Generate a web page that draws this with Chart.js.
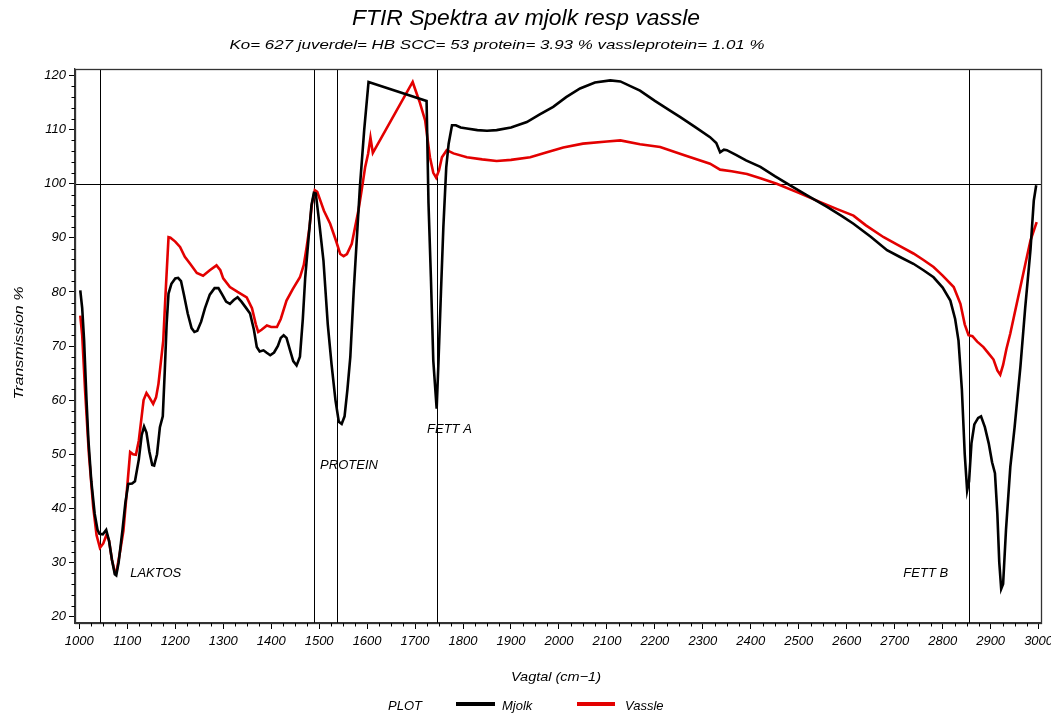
<!DOCTYPE html>
<html>
<head>
<meta charset="utf-8">
<script src="https://cdn.jsdelivr.net/npm/chart.js@4.4.1/dist/chart.umd.min.js"></script>
<style>
  html, body { margin: 0; padding: 0; background: #fff; }
  #wrap { width: 1051px; height: 716px; position: relative; }
</style>
</head>
<body>
<div id="wrap"><canvas id="c" width="1051" height="716"></canvas></div>
<script>
// ---- Data ----
const mjolkX = [1002,1006,1010,1015,1019,1025,1032,1038,1042,1049,1056,1062,1068,1074,1077,1082,1090,1096,1102,1110,1116,1124,1130,1135,1140,1146,1152,1156,1162,1168,1174,1178,1182,1186,1192,1200,1206,1212,1218,1226,1234,1240,1246,1254,1262,1272,1282,1290,1298,1306,1314,1322,1330,1338,1348,1356,1364,1370,1376,1384,1390,1398,1406,1414,1420,1426,1432,1440,1446,1453,1460,1466,1471,1478,1484,1489,1493,1500,1509,1518,1526,1534,1541,1547,1553,1559,1565,1572,1578,1585,1594,1603,1724,1728,1733,1738,1745,1749,1754,1759,1765,1770,1777,1785,1795,1808,1830,1850,1870,1900,1933,1960,1988,2015,2044,2075,2107,2128,2150,2169,2200,2230,2253,2285,2315,2328,2336,2344,2350,2370,2390,2420,2450,2482,2520,2559,2590,2614,2650,2684,2710,2739,2760,2781,2800,2816,2826,2833,2840,2846,2851,2855,2860,2866,2874,2880,2888,2896,2903,2909,2914,2918,2922,2926,2932,2941,2950,2962,2972,2983,2990,2995];
const mjolkY = [80.3,77,71,60,52.5,45,39,36,35.3,35.2,36,34,30.5,27.8,27.6,30,36,41,44.5,44.6,45,49,53.5,55.1,54,50.5,48,47.9,50,55,57,65,74,79.7,81.5,82.5,82.6,82,79.5,76,73.3,72.6,72.8,74.5,77,79.5,80.7,80.7,79.5,78.2,77.8,78.5,79,78.2,77,76,73,69.8,69,69.2,68.8,68.3,68.8,70,71.5,72,71.5,69,67.2,66.4,68,75,82.7,90,96,98.3,98.2,93,85.8,74,66.5,60,56,55.6,57,62,68,80,89,99.4,110,118.8,115.3,96.4,82.7,67.3,58.4,67.5,80,92,103,107.4,110.8,110.8,110.4,110.2,109.9,109.8,109.9,110.4,111.4,112.8,114.2,116,117.6,118.7,119.1,118.9,118,117.2,115.3,113.6,112.3,110.4,108.6,107.5,105.8,106.3,106.2,105.3,104.3,103.1,101.4,99.7,97.7,95.7,94,92.6,90.2,87.7,86.5,85.2,84,82.7,80.8,78.4,75,71,62,50,43.3,45,52,55.5,56.7,57,55,52,48.5,46.5,39,30,25.1,26,36,47.6,55,66.1,77,87.7,96.9,99.7];

const vassleX = [1002,1006,1012,1020,1029,1036,1043,1050,1057,1062,1068,1074,1078,1085,1092,1098,1106,1112,1118,1124,1130,1134,1140,1146,1154,1160,1165,1170,1175,1180,1186,1190,1200,1210,1220,1231,1245,1258,1272,1286,1294,1300,1314,1330,1349,1360,1368,1373,1380,1391,1400,1412,1420,1432,1445,1460,1468,1474,1480,1485,1491,1496,1502,1510,1523,1535,1544,1551,1558,1568,1575,1582,1589,1596,1602,1607,1612,1695,1700,1710,1721,1731,1738,1744,1750,1756,1766,1780,1808,1840,1870,1900,1940,1975,2009,2050,2100,2128,2169,2211,2260,2315,2336,2360,2392,2420,2454,2500,2545,2580,2614,2640,2677,2710,2739,2760,2781,2800,2823,2837,2846,2854,2862,2872,2885,2896,2906,2914,2920,2926,2933,2941,2950,2962,2972,2983,2996];
const vassleY = [75.6,72,61.8,50,40.2,35,32.7,33.5,35.2,34,30.5,28.2,28.5,32,35.9,42,50.4,50,49.9,52.5,57,60,61.3,60.5,59.3,60.5,63,67,71,80,90.1,90,89.3,88.3,86.5,85.2,83.5,83,84,84.9,84,82.5,80.9,80,79,77,74,72.6,73,73.8,73.5,73.5,75,78.4,80.5,82.7,85,88.3,92,96.3,98.8,98.5,97,95,92.6,89.5,87,86.6,87,88.9,92,95.1,99,103.1,105.5,108.5,105.7,118.8,117.5,115,111.7,104.9,102,101.1,102.5,104.9,106.2,105.6,104.9,104.5,104.2,104.4,104.9,105.8,106.7,107.4,107.8,108,107.3,106.8,105.3,103.7,102.6,102.3,101.8,101,100,98.3,96.6,95.3,94.1,92.3,90.1,88.5,87.1,85.9,84.6,83,80.9,77.8,74,72,71.8,70.8,69.8,68.6,67.5,65.5,64.7,66.5,69.5,72.3,76,80.9,85,89.5,92.9];

const xTicks = [1000,1100,1200,1300,1400,1500,1600,1700,1800,1900,2000,2100,2200,2300,2400,2500,2600,2700,2800,2900,3000];
const yTicks = [20,30,40,50,60,70,80,90,100,110,120];
const refLinesX = [1043,1490,1538,1745,2854];
const refLineY = 100;
const bandLabels = ['LAKTOS','PROTEIN','FETT A','FETT B'];
const bandLabelX = [1106,1502,1725,2718];
const bandLabelY = [28,47.9,54.6,28];

const titleText = 'FTIR Spektra av mjolk resp vassle';
const subtitleText = 'Ko= 627 juverdel= HB SCC= 53 protein= 3.93 % vassleprotein= 1.01 %';
const xTitle = 'Vagtal (cm\u22121)';
const yTitle = 'Transmission %';
const seriesNames = ['Mjolk','Vassle'];
const seriesColors = ['#000000','#e30000'];

const FONT = "'Liberation Sans', Arial, sans-serif";

function pts(xs, ys) { return xs.map((x, i) => ({ x: x, y: ys[i] })); }

// draw text centred at cx, stretched horizontally to a target width
function fitText(ctx, text, cx, cy, w) {
  const m = ctx.measureText(text).width;
  ctx.save();
  ctx.translate(cx, cy);
  ctx.scale(w / m, 1);
  ctx.textAlign = 'center';
  ctx.fillText(text, 0, 0);
  ctx.restore();
}

const decor = {
  id: 'decor',
  beforeDatasetsDraw(chart) {
    const ctx = chart.ctx, a = chart.chartArea;
    const xs = chart.scales.x, ys = chart.scales.y;
    ctx.save();
    ctx.strokeStyle = '#000';
    ctx.lineWidth = 1;
    refLinesX.forEach(v => {
      const px = Math.round(xs.getPixelForValue(v)) + 0.5;
      ctx.beginPath(); ctx.moveTo(px, a.top); ctx.lineTo(px, a.bottom); ctx.stroke();
    });
    const py = Math.round(ys.getPixelForValue(refLineY)) + 0.5;
    ctx.beginPath(); ctx.moveTo(a.left, py); ctx.lineTo(a.right, py); ctx.stroke();
    ctx.restore();
  },
  afterDraw(chart) {
    const ctx = chart.ctx, a = chart.chartArea;
    const xs = chart.scales.x, ys = chart.scales.y;
    ctx.save();
    // frame
    ctx.strokeStyle = '#333';
    ctx.lineWidth = 1.3;
    ctx.strokeRect(a.left + 0.5, a.top + 0.5, a.right - a.left, a.bottom - a.top);
    // minor ticks
    ctx.strokeStyle = '#000';
    ctx.lineWidth = 1;
    for (let v = 1000; v <= 3000; v += 25) {
      if (v % 100 === 0) continue;
      const px = Math.round(xs.getPixelForValue(v)) + 0.5;
      ctx.beginPath(); ctx.moveTo(px, a.bottom); ctx.lineTo(px, a.bottom + 3.5); ctx.stroke();
    }
    for (let v = 20; v <= 120; v += 2) {
      if (v % 10 === 0) continue;
      const py = Math.round(ys.getPixelForValue(v)) + 0.5;
      ctx.beginPath(); ctx.moveTo(a.left - 3.5, py); ctx.lineTo(a.left, py); ctx.stroke();
    }
    // band labels
    ctx.fillStyle = '#000';
    ctx.font = 'italic 13px ' + FONT;
    ctx.textBaseline = 'middle';
    ctx.textAlign = 'left';
    bandLabels.forEach((t, i) => {
      ctx.fillText(t, xs.getPixelForValue(bandLabelX[i]), ys.getPixelForValue(bandLabelY[i]));
    });
    // titles
    ctx.font = 'italic 22px ' + FONT;
    fitText(ctx, titleText, 526, 19, 348);
    ctx.font = 'italic 13px ' + FONT;
    fitText(ctx, subtitleText, 497, 45, 535);
    ctx.textAlign = 'center';
    ctx.font = 'italic 13px ' + FONT;
    fitText(ctx, xTitle, 556, 677, 90);
    ctx.save();
    ctx.translate(19, 343);
    ctx.rotate(-Math.PI / 2);
    fitText(ctx, yTitle, 0, 0, 113);
    ctx.restore();
    // legend
    ctx.textAlign = 'left';
    ctx.fillText('PLOT', 388, 706);
    ctx.lineWidth = 4;
    ctx.strokeStyle = seriesColors[0];
    ctx.beginPath(); ctx.moveTo(456, 704); ctx.lineTo(495, 704); ctx.stroke();
    ctx.fillText(seriesNames[0], 502, 706);
    ctx.strokeStyle = seriesColors[1];
    ctx.beginPath(); ctx.moveTo(577, 704); ctx.lineTo(615, 704); ctx.stroke();
    ctx.fillText(seriesNames[1], 625, 706);
    ctx.restore();
  }
};

new Chart(document.getElementById('c'), {
  type: 'line',
  data: {
    datasets: [
      { label: seriesNames[0], data: pts(mjolkX, mjolkY), borderColor: seriesColors[0], borderWidth: 2.6, pointRadius: 0, fill: false, tension: 0 },
      { label: seriesNames[1], data: pts(vassleX, vassleY), borderColor: seriesColors[1], borderWidth: 2.6, pointRadius: 0, fill: false, tension: 0 }
    ]
  },
  options: {
    responsive: false,
    animation: false,
    layout: { padding: { top: 69, right: 10, left: 0, bottom: 0 } },
    plugins: { legend: { display: false }, title: { display: false }, tooltip: { enabled: false } },
    scales: {
      x: {
        type: 'linear', min: 991, max: 3005,
        afterBuildTicks: s => { s.ticks = xTicks.map(v => ({ value: v })); },
        afterFit: s => { s.height = 93; s.paddingLeft = 0; s.paddingRight = 0; },
        grid: { drawOnChartArea: false, drawTicks: true, tickLength: 6, color: '#000', tickColor: '#000' },
        border: { display: true, color: '#333', width: 1.3 },
        ticks: { color: '#000', font: { family: FONT, size: 13, style: 'italic' }, padding: 5, maxRotation: 0, autoSkip: false, callback: v => String(v) }
      },
      y: {
        type: 'linear', min: 18.8, max: 121.2,
        afterBuildTicks: s => { s.ticks = yTicks.map(v => ({ value: v })); },
        afterFit: s => { s.width = 75; s.paddingTop = 0; s.paddingBottom = 0; },
        grid: { drawOnChartArea: false, drawTicks: true, tickLength: 6, color: '#000', tickColor: '#000' },
        border: { display: true, color: '#333', width: 1.3 },
        ticks: { color: '#000', font: { family: FONT, size: 13, style: 'italic' }, padding: 3, autoSkip: false, callback: v => String(v) }
      }
    }
  },
  plugins: [decor]
});
</script>
</body>
</html>
